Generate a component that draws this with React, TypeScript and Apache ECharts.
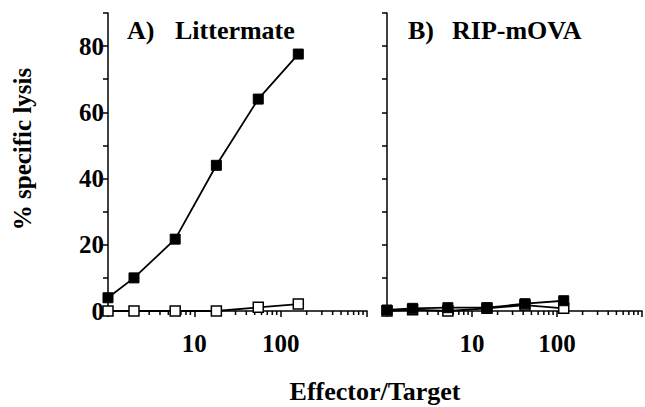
import React, { useEffect, useRef } from "react";
import * as echarts from "echarts";

// Effector/Target ratios (x) and % specific lysis (y)
const etLittermate = [1, 2, 6, 18, 55, 160];
const littermateFilled = [4, 10, 21.7, 44, 64, 77.6];
const littermateOpen = [0, 0, 0, 0, 1.1, 2.1];

const etRip = [1, 2, 5.2, 15, 42, 120];
const ripFilled = [0.3, 0.8, 1.0, 1.0, 2.2, 3.1];
const ripOpen = [0, 0.4, 0, 0.8, 1.8, 0.8];

const xTickLabels = [10, 100];
const yTickLabels = [0, 20, 40, 60, 80];
const minorTickValues = [2, 3, 4, 5, 6, 7, 8, 9, 20, 30, 40, 50, 60, 70, 80, 90, 200, 300, 400, 500, 600, 700, 800, 900];

const panelLetters = ["A)", "B)"];
const panelNames = ["Littermate", "RIP-mOVA"];
const xTitle = "Effector/Target";
const yTitle = "% specific lysis";

const FONT = "Liberation Serif";

export default function App() {
  const ref = useRef<HTMLDivElement>(null);

  useEffect(() => {
    if (!ref.current) return;
    const chart = echarts.init(ref.current, null, { renderer: "svg" });

    const zip = (xs: number[], ys: number[]) => xs.map((x, i) => [x, ys[i]]);

    const xAxisBase = (showLabels: boolean) => ({
      type: "log",
      logBase: 10,
      min: 1,
      max: 1000,
      splitNumber: 3,
      axisLine: { show: true, onZero: false, lineStyle: { color: "#000", width: 1.5 } },
      axisTick: { show: true, length: 6, lineStyle: { color: "#000", width: 1.5 } },
      splitLine: { show: false },
      axisLabel: {
        show: showLabels,
        margin: 20,
        fontFamily: FONT,
        fontWeight: "bold",
        fontSize: 25,
        color: "#000",
        formatter: (v: number) => (xTickLabels.includes(Math.round(v)) ? String(Math.round(v)) : ""),
      },
    });

    const yAxisBase = (showLabels: boolean) => ({
      type: "value",
      min: 0,
      max: 90,
      interval: 10,
      axisLine: { show: true, lineStyle: { color: "#000", width: 1.5 } },
      axisTick: { show: true, length: 5, lineStyle: { color: "#000", width: 1.5 } },
      splitLine: { show: false },
      axisLabel: {
        show: showLabels,
        margin: 4,
        fontFamily: FONT,
        fontWeight: "bold",
        fontSize: 25,
        color: "#000",
        formatter: (v: number) => (yTickLabels.includes(v) ? String(v) : ""),
      },
    });

    const openSeries = (idx: number, data: number[][]) => ({
      type: "line",
      xAxisIndex: idx,
      yAxisIndex: idx,
      data,
      clip: false,
      symbol: "rect",
      symbolSize: 10,
      lineStyle: { color: "#000", width: 1.8 },
      itemStyle: { color: "#fff", borderColor: "#000", borderWidth: 1.5 },
      z: 3,
    });

    const filledSeries = (idx: number, data: number[][]) => ({
      type: "line",
      xAxisIndex: idx,
      yAxisIndex: idx,
      data,
      clip: false,
      symbol: "rect",
      symbolSize: 10,
      lineStyle: { color: "#000", width: 1.8 },
      itemStyle: { color: "#000", borderColor: "#000", borderWidth: 1 },
      z: 4,
    });

    const minorTicks = (idx: number) => ({
      type: "custom",
      xAxisIndex: idx,
      yAxisIndex: idx,
      clip: false,
      silent: true,
      data: minorTickValues.map((v) => [v, 0]),
      renderItem: (_params: any, api: any) => {
        const p = api.coord([api.value(0), 0]);
        return {
          type: "line",
          shape: { x1: p[0], y1: p[1], x2: p[0], y2: p[1] + 4 },
          style: { stroke: "#000", lineWidth: 1.5 },
        };
      },
      z: 2,
    });

    const textStyle = (size: number) => ({
      fontFamily: FONT,
      fontWeight: "bold",
      fontSize: size,
      fill: "#000",
    });

    chart.setOption({
      animation: false,
      backgroundColor: "#fff",
      grid: [
        { left: 108, top: 13, width: 259, height: 298 },
        { left: 387, top: 13, width: 256, height: 298 },
      ],
      xAxis: [
        { ...xAxisBase(true), gridIndex: 0 },
        { ...xAxisBase(true), gridIndex: 1 },
      ],
      yAxis: [
        { ...yAxisBase(true), gridIndex: 0 },
        { ...yAxisBase(false), gridIndex: 1 },
      ],
      series: [
        minorTicks(0),
        minorTicks(1),
        openSeries(0, zip(etLittermate, littermateOpen)),
        filledSeries(0, zip(etLittermate, littermateFilled)),
        openSeries(1, zip(etRip, ripOpen)),
        filledSeries(1, zip(etRip, ripFilled)),
      ],
      graphic: [
        { type: "text", left: 127, top: 17, style: { text: panelLetters[0], ...textStyle(26) } },
        { type: "text", left: 175, top: 17, style: { text: panelNames[0], ...textStyle(26) } },
        { type: "text", left: 408, top: 17, style: { text: panelLetters[1], ...textStyle(26) } },
        { type: "text", left: 452, top: 17, style: { text: panelNames[1], ...textStyle(26) } },
        {
          type: "text",
          x: 375,
          y: 391,
          style: { text: xTitle, align: "center", verticalAlign: "middle", ...textStyle(26) },
        },
        {
          type: "text",
          x: 22,
          y: 149,
          rotation: Math.PI / 2,
          style: { text: yTitle, align: "center", verticalAlign: "middle", ...textStyle(25) },
        },
      ],
    });

    return () => chart.dispose();
  }, []);

  return (
    <div
      ref={ref}
      style={{ position: "fixed", left: 0, top: 0, width: 645, height: 407, background: "#fff" }}
    />
  );
}
